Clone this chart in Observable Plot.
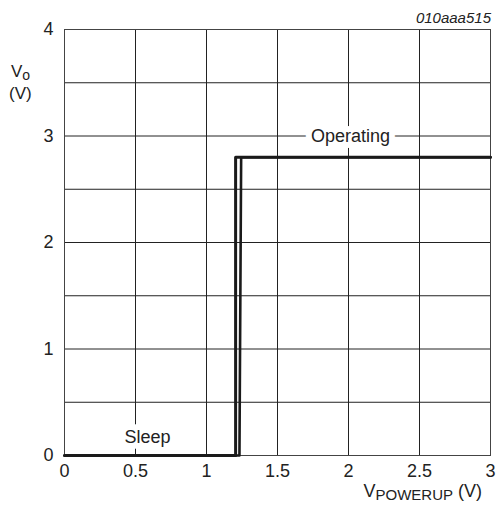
<!DOCTYPE html>
<html><head><meta charset="utf-8">
<script src="https://cdn.jsdelivr.net/npm/d3@7"></script>
<script src="https://cdn.jsdelivr.net/npm/@observablehq/plot@0.6"></script>
<style>
body{margin:0;background:#fff}
svg{font-family:"Liberation Sans",Arial,sans-serif}
</style>
</head><body><div id="chart"></div>
<script>
// Tick values
const xTicks = [0, 0.5, 1, 1.5, 2, 2.5, 3];
const yTicks = [0, 1, 2, 3, 4];
const xGrid = [0.5, 1, 1.5, 2, 2.5];
const yGrid = [0.5, 1, 1.5, 2, 2.5, 3, 3.5];

// Traces (V_POWERUP, V_O)
const riseX = [0, 1.205, 1.205, 3];
const riseY = [0, 0, 2.8, 2.8];
const fallX = [3, 1.244, 1.232, 0];
const fallY = [2.8, 2.8, 0, 0];

// Annotations
const labelText = ["Sleep", "Operating"];
const labelX = [0.585, 2.014];
const labelY = [0.17, 3.0];

const toRows = (xs, ys) => xs.map((x, i) => ({x, y: ys[i]}));
const rise = toRows(riseX, riseY);
const fall = toRows(fallX, fallY);
const labels = labelText.map((t, i) => ({text: t, x: labelX[i], y: labelY[i]}));

const ink = "#222";

const chart = Plot.plot({
  width: 497,
  height: 506,
  marginLeft: 64,
  marginRight: 7,
  marginTop: 29,
  marginBottom: 51,
  style: {fontFamily: '"Liberation Sans",Arial,sans-serif', fontSize: "18px", color: ink, background: "#fff"},
  x: {domain: [0, 3], ticks: xTicks, tickSize: 0, tickPadding: 9, tickFormat: d => String(d), label: null},
  y: {domain: [0, 4], ticks: yTicks, tickSize: 0, tickPadding: 11, tickFormat: d => String(d), label: null},
  marks: [
    Plot.ruleX(xGrid, {stroke: ink, strokeWidth: 1}),
    Plot.ruleY(yGrid, {stroke: ink, strokeWidth: 1}),
    Plot.frame({stroke: "#444", strokeWidth: 1}),
    Plot.line(fall, {x: "x", y: "y", stroke: "#1a1a1a", strokeWidth: 2.6, curve: "linear"}),
    Plot.line(rise, {x: "x", y: "y", stroke: "#1a1a1a", strokeWidth: 3, curve: "linear"}),
    Plot.text(labels, {x: "x", y: "y", text: "text", fontSize: 18, fill: ink,
      stroke: "white", strokeWidth: 12, paintOrder: "stroke"})
  ]
});

const svg = d3.select(chart);
svg.attr("font-family", '"Liberation Sans",Arial,sans-serif');

// Y axis label: V_O (V)
const yl = svg.append("text").attr("fill", ink).attr("font-size", 17).attr("text-anchor", "start");
yl.append("tspan").attr("x", 11).attr("y", 77).text("V");
yl.append("tspan").attr("font-size", 14).attr("dy", 3).text("o");
svg.append("text").attr("fill", ink).attr("font-size", 17).attr("text-anchor", "start")
  .attr("x", 9).attr("y", 99).text("(V)");

// X axis label: V_POWERUP (V)
const xl = svg.append("text").attr("fill", ink).attr("font-size", 18)
  .attr("x", 482).attr("y", 497).attr("text-anchor", "end");
xl.append("tspan").text("V");
xl.append("tspan").attr("font-size", 15).attr("dy", 3).text("POWERUP");
xl.append("tspan").attr("dy", -3).text(" (V)");

// Figure id
svg.append("text").attr("fill", ink).attr("font-size", 15).attr("font-style", "italic")
  .attr("x", 491).attr("y", 23).attr("text-anchor", "end").text("010aaa515");

document.getElementById("chart").appendChild(chart);
</script>
</body></html>
